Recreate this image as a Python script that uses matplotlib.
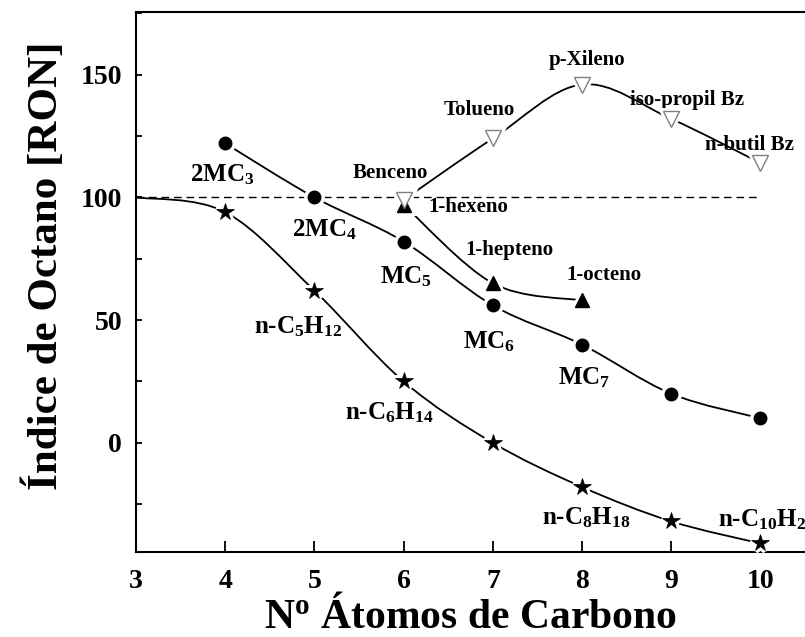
import numpy as np
import matplotlib
matplotlib.use('Agg')
import matplotlib.pyplot as plt
from matplotlib.path import Path
from matplotlib.patches import PathPatch
from matplotlib.ticker import MultipleLocator

plt.rcParams['font.family'] = ['Liberation Serif', 'DejaVu Serif']
plt.rcParams['font.weight'] = 'bold'
plt.rcParams['mathtext.fontset'] = 'custom'
plt.rcParams['mathtext.rm'] = 'Liberation Serif:bold'
plt.rcParams['mathtext.bf'] = 'Liberation Serif:bold'
plt.rcParams['mathtext.it'] = 'Liberation Serif:bold'
plt.rcParams['mathtext.default'] = 'bf'

# ---------------- data ----------------
alkane_c = [3, 4, 5, 6, 7, 8, 9, 10]
alkane_ron = [100, 94, 62, 25, 0, -18, -32, -41]
methyl_c = [4, 5, 6, 7, 8, 9, 10]
methyl_ron = [122, 100, 82, 56, 40, 20, 10]
alkene_c = [6, 7, 8]
alkene_ron = [97, 65, 58]
arom_c = [6, 7, 8, 9, 10]
arom_ron = [99, 124, 146, 132, 114]
reference_ron = 100

x_ticks = [3, 4, 5, 6, 7, 8, 9, 10]
y_ticks = [0, 50, 100, 150]

# labels: text, x, y (data coords, left/baseline), fontsize
labels = [
    ('2MC$_3$', 3.605, 106.5, 18),
    ('2MC$_4$', 4.746, 84.1, 18),
    ('MC$_5$', 5.735, 65.1, 18),
    ('MC$_6$', 6.669, 38.6, 18),
    ('MC$_7$', 7.734, 23.6, 18),
    ('n-C$_5$H$_{12}$', 4.323, 44.7, 18),
    ('n-C$_6$H$_{14}$', 5.343, 9.4, 18),
    ('n-C$_8$H$_{18}$', 7.548, -33.4, 18),
    ('n-C$_{10}$H$_{22}$', 9.528, -34.1, 18),
    ('Benceno', 5.429, 107.9, 15),
    ('1-hexeno', 6.277, 93.9, 15),
    ('1-hepteno', 6.688, 76.6, 15),
    ('1-octeno', 7.828, 66.2, 15),
    ('p-Xileno', 7.622, 154.1, 15),
    ('Tolueno', 6.445, 133.7, 15),
    ('iso-propil Bz', 8.538, 137.8, 15),
    ('n-butil Bz', 9.379, 119.4, 15),
]


def smooth_path(xs, ys):
    P = np.column_stack([xs, ys]).astype(float)
    n = len(P)
    verts = [P[0]]
    codes = [Path.MOVETO]
    for i in range(n - 1):
        p0 = P[i - 1] if i > 0 else P[i]
        p1 = P[i]
        p2 = P[i + 1]
        p3 = P[i + 2] if i + 2 < n else P[i + 1]
        c1 = p1 + (p2 - p0) / 6.0
        c2 = p2 - (p3 - p1) / 6.0
        verts += [c1, c2, p2]
        codes += [Path.CURVE4] * 3
    return Path(verts, codes)


fig = plt.figure(figsize=(8.05, 6.37), dpi=100)
ax = fig.add_axes([0.169, 0.1334, 0.831, 0.8476])
ax.set_xlim(3, 10.5)
ax.set_ylim(-44.5, 175.5)

# reference dashed line
ax.hlines(reference_ron, min(alkane_c), max(alkane_c), colors='black',
          linestyles=(0, (5.5, 3.5)), linewidth=1.0, zorder=2)

# smooth curves
for xs, ys in [(alkane_c, alkane_ron), (methyl_c, methyl_ron),
               (alkene_c, alkene_ron), (arom_c, arom_ron)]:
    ax.add_patch(PathPatch(smooth_path(xs, ys), facecolor='none',
                           edgecolor='black', linewidth=1.3, zorder=3))

# white halos (gap around symbols)
ax.plot(alkane_c[1:], alkane_ron[1:], ls='none', marker='*', ms=13,
        mfc='white', mec='white', mew=5, zorder=4)
ax.plot(methyl_c, methyl_ron, ls='none', marker='o', ms=9,
        mfc='white', mec='white', mew=6, zorder=4)
ax.plot(alkene_c, alkene_ron, ls='none', marker='^', ms=10,
        mfc='white', mec='white', mew=5, zorder=4)
ax.plot(arom_c, arom_ron, ls='none', marker='v', ms=11,
        mfc='white', mec='white', mew=5, zorder=4)

# symbols
ax.plot(alkane_c[1:], alkane_ron[1:], ls='none', marker='*', ms=13,
        mfc='black', mec='black', mew=0.5, zorder=5)
ax.plot(methyl_c, methyl_ron, ls='none', marker='o', ms=9,
        mfc='black', mec='black', zorder=5)
ax.plot(alkene_c, alkene_ron, ls='none', marker='^', ms=10,
        mfc='black', mec='black', zorder=5)
ax.plot(arom_c, arom_ron, ls='none', marker='v', ms=11,
        mfc='white', mec='#808080', mew=1.0, zorder=6)

for txt, x, y, fs in labels:
    ax.text(x, y, txt, fontsize=fs, fontweight='bold', ha='left',
            va='baseline', zorder=1)

# axes styling
ax.spines['right'].set_visible(False)
for s in ['left', 'bottom', 'top']:
    ax.spines[s].set_linewidth(1.5)

ax.set_xticks(x_ticks)
ax.set_yticks(y_ticks)
ax.yaxis.set_minor_locator(MultipleLocator(25))
ax.tick_params(axis='x', which='major', direction='in', length=8, width=1.3,
               labelsize=20, pad=12, top=False)
ax.tick_params(axis='y', which='both', direction='in', length=4, width=1.3,
               labelsize=20, pad=10, right=False)
for lab in ax.get_xticklabels() + ax.get_yticklabels():
    lab.set_fontweight('bold')

ax.set_xlabel('N$^{\\rm o}$ Átomos de Carbono', fontsize=30,
              fontweight='bold', labelpad=2)
ax.set_ylabel('Índice de Octano [RON]', fontsize=31, fontweight='bold')
ax.yaxis.set_label_coords(-0.105, 0.53)

fig.savefig('out.png', dpi=100)
